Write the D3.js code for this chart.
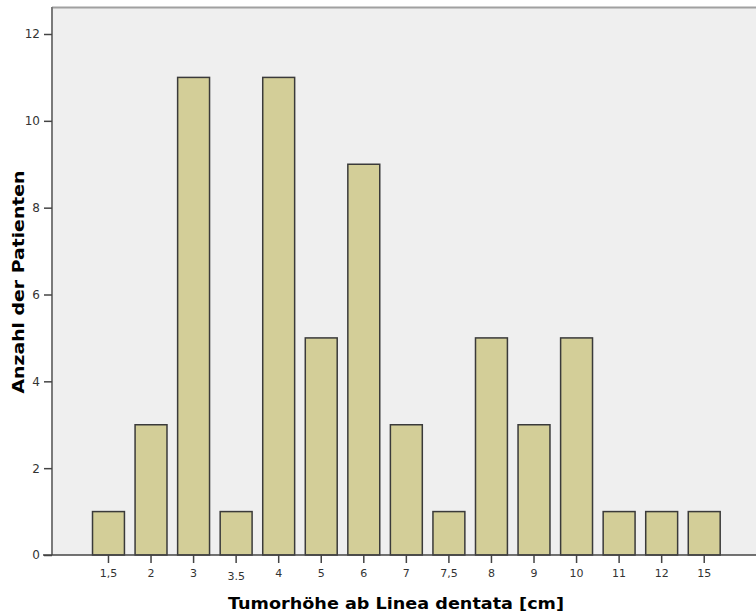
<!DOCTYPE html>
<html><head><meta charset="utf-8">
<script src="https://cdn.jsdelivr.net/npm/d3@7"></script>
<style>body{margin:0;background:#fff}svg{display:block}</style>
</head><body>
<svg id="c" width="756" height="616"></svg>
<script>
const categories = ["1,5","2","3","3.5","4","5","6","7","7,5","8","9","10","11","12","15"];
const counts = [1,3,11,1,11,5,9,3,1,5,3,5,1,1,1];
const yTicks = [0,2,4,6,8,10,12];

const svg = d3.select("#c");
const mLeft = 52, mTop = 7, mRight = 760, mBottom = 555;

const x = d3.scaleBand().domain(categories).range([87.2, 725.5]).paddingInner(0.25).paddingOuter(0.125);
const y = d3.scaleLinear().domain([0,12]).range([mBottom, 34]);

// plot background
svg.append("rect").attr("x", mLeft).attr("y", mTop).attr("width", mRight-mLeft).attr("height", mBottom-mTop).attr("fill", "#efefef");
svg.append("line").attr("x1", mLeft).attr("x2", mRight).attr("y1", mTop+0.5).attr("y2", mTop+0.5).attr("stroke", "#a0a0a0").attr("stroke-width", 2);

// bars
svg.append("g").selectAll("rect").data(categories).join("rect")
  .attr("x", d => x(d)).attr("width", x.bandwidth())
  .attr("y", (d,i) => y(counts[i])).attr("height", (d,i) => y(0)-y(counts[i]))
  .attr("fill", "#d3ce98").attr("stroke", "#3a3a3a").attr("stroke-width", 1.5);

// y axis
const ya = svg.append("g").attr("transform", `translate(${mLeft},0)`)
  .call(d3.axisLeft(y).tickValues(yTicks).tickSize(8).tickPadding(4).tickFormat(d3.format("d")));
ya.select(".domain").attr("stroke", "#7a7a7a").attr("stroke-width", 2).attr("d", `M0,${mTop}V${mBottom}`);
ya.selectAll(".tick line").attr("stroke", "#444").attr("stroke-width", 1.5);
ya.selectAll(".tick text").attr("font-family", "DejaVu Sans, sans-serif").attr("font-size", 12).attr("fill", "#333");

// x axis
const xa = svg.append("g").attr("transform", `translate(0,${mBottom})`)
  .call(d3.axisBottom(x).tickSize(8).tickPadding(6));
xa.select(".domain").attr("stroke", "#444").attr("stroke-width", 1.5).attr("d", `M${mLeft-9},0H${mRight}`);
xa.selectAll(".tick line").attr("stroke", "#444").attr("stroke-width", 1.5);
xa.selectAll(".tick text").attr("font-family", "DejaVu Sans, sans-serif").attr("font-size", 11).attr("fill", "#333")
  .attr("dy", d => d === "3.5" ? "1.0em" : "0.71em");

// titles
svg.append("text").attr("x", 396).attr("y", 609).attr("text-anchor", "middle")
  .attr("font-family", "DejaVu Sans, sans-serif").attr("font-weight", "bold").attr("font-size", 15)
  .attr("textLength", 336).attr("lengthAdjust", "spacingAndGlyphs")
  .text("Tumorhöhe ab Linea dentata [cm]");
svg.append("text").attr("transform", "translate(24,282) rotate(-90)").attr("text-anchor", "middle")
  .attr("font-family", "DejaVu Sans, sans-serif").attr("font-weight", "bold").attr("font-size", 15)
  .attr("textLength", 223).attr("lengthAdjust", "spacingAndGlyphs")
  .text("Anzahl der Patienten");
</script>
</body></html>
